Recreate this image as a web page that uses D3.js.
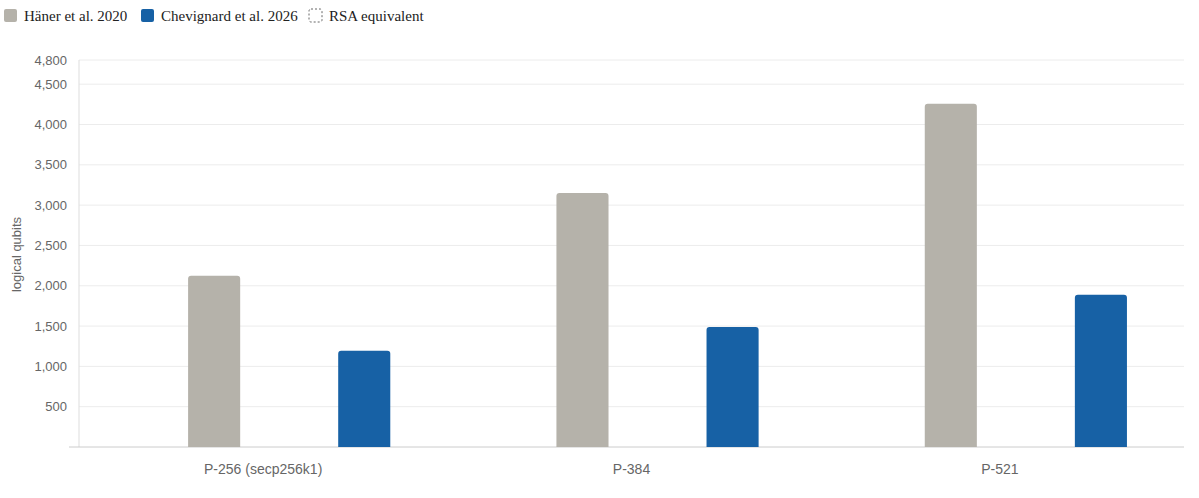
<!DOCTYPE html>
<html><head><meta charset="utf-8">
<script src="https://cdn.jsdelivr.net/npm/d3@7"></script>
<style>body{margin:0;background:#fff}</style></head>
<body><svg id="c" width="1199" height="498"></svg>
<script>
const categories = ["P-256 (secp256k1)", "P-384", "P-521"];
const series = ["Häner et al. 2020", "Chevignard et al. 2026"];
const haner = [2124, 3151, 4258];
const chevignard = [1193, 1487, 1887];
const yTicks = [500,1000,1500,2000,2500,3000,3500,4000,4500,4800];
const colors = ["#b5b2aa", "#1761a5"];

const svg = d3.select("#c");
const L=79,R=1184,T=60,B=447;
const x = d3.scaleBand().domain(categories).range([L,R]);
const bw = x.bandwidth();
const x1 = d3.scaleBand().domain(series).range([109/368*bw, 311/368*bw]).paddingInner(0.653).paddingOuter(0);
const y = d3.scaleLinear().domain([0,4800]).range([B,T]);

svg.append("g").selectAll("line").data(yTicks).join("line")
 .attr("x1",L).attr("x2",R).attr("y1",d=>y(d)).attr("y2",d=>y(d)).attr("stroke","#ececec");
svg.append("g").selectAll("text").data(yTicks).join("text")
 .attr("x",L-12).attr("y",d=>y(d)+4.5).attr("text-anchor","end")
 .attr("font-family","Liberation Sans, Arial").attr("font-size",13).attr("fill","#666")
 .text(d=>d3.format(",")(d));
svg.append("line").attr("x1",L).attr("x2",L).attr("y1",T).attr("y2",B).attr("stroke","#ddd");
svg.append("line").attr("x1",L-10).attr("x2",R).attr("y1",B).attr("y2",B).attr("stroke","#ccc");

const data = [haner, chevignard];
series.forEach((s,i)=>{
  svg.append("g").selectAll("path").data(categories).join("path")
   .attr("fill",colors[i])
   .attr("d",(c,j)=>{
     const x0=x(c)+x1(s), w=x1.bandwidth(), yt=y(data[i][j]), r=3;
     return `M${x0},${B}V${yt+r}Q${x0},${yt} ${x0+r},${yt}H${x0+w-r}Q${x0+w},${yt} ${x0+w},${yt+r}V${B}Z`;
   });
});
svg.append("g").selectAll("text").data(categories).join("text")
 .attr("x",d=>x(d)+bw/2).attr("y",B+27).attr("text-anchor","middle")
 .attr("font-family","Liberation Sans, Arial").attr("font-size",14).attr("fill","#666").text(d=>d);
svg.append("text").attr("transform",`translate(21,${(T+B)/2+1}) rotate(-90)`).attr("text-anchor","middle")
 .attr("font-family","Liberation Sans, Arial").attr("font-size",13).attr("fill","#666").text("logical qubits");

const leg = [{t:series[0],c:colors[0]},{t:series[1],c:colors[1]},{t:"RSA equivalent",c:null}];
const lx=[4,141,309];
leg.forEach((d,i)=>{
  const g=svg.append("g").attr("transform",`translate(${lx[i]},9)`);
  g.append("rect").attr("width",13).attr("height",13).attr("rx",2)
   .attr("fill",d.c||"none").attr("stroke",d.c?"none":"#666").attr("stroke-dasharray",d.c?null:"2,2");
  g.append("text").attr("x",20).attr("y",11.5).attr("font-family","Liberation Serif, Times New Roman")
   .attr("font-size",15).attr("fill","#222").text(d.t);
});
</script></body></html>
